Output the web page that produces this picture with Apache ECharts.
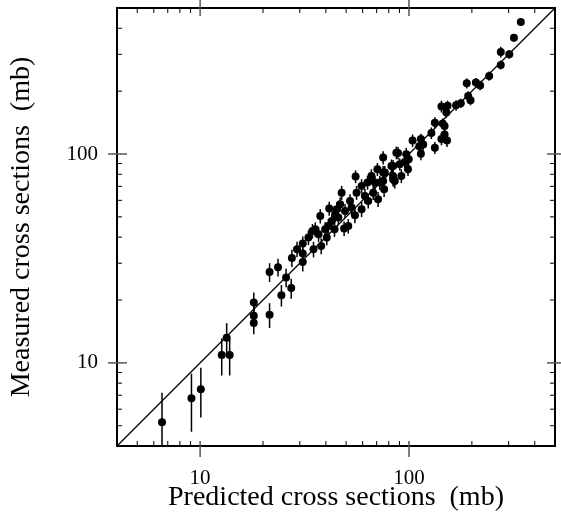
<!DOCTYPE html>
<html><head><meta charset="utf-8">
<script src="https://cdn.jsdelivr.net/npm/echarts@6/dist/echarts.min.js"></script>
<style>html,body{margin:0;padding:0;background:#fff}#c{width:561px;height:527px}</style>
</head><body><div id="c"></div>
<script>
// Predicted (x) and measured (y) cross sections in mb, with measured errors (mb)
const predicted = [6.57,9.09,10.08,12.69,13.4,13.85,
 18.07,18.07,18.07,21.5,21.5,23.6,24.5,25.8,27.3,27.5,29.1,31.0,31.0,31.0,
 33.0,34.5,34.9,37.6,38.0,36.9,39.7,40.4,41.5,42.7,44.3,44.0,46.8,45.9,48.9,49.4,
 52.2,53.1,55.1,55.5,56.1,59.3,59.3,63.3,63.8,66.1,67.4,71.1,70.6,72.5,76.0,75.2,82.4,83.9,87.0,
 47.6,51.2,41.1,35.6,45.1,61.5,68.7,76.6,
 318,275,302,275,242,189,209,219,192,197,168,177,143,153,151,133,145,148,128,148,143,152,
 104,114,112,117,133,88.6,97,99.7,114,83.9,90.3,95.4,98.9,75.2,83.9,91.9,75.2,85.5,343];
const measured = [5.19,6.78,7.48,10.9,13.2,10.9,
 19.45,16.8,15.5,17.0,27.2,28.7,21.1,25.6,22.8,31.8,35.0,37.3,33.4,30.4,
 39.8,42.8,35.0,50.5,36.3,41.3,43.6,39.8,54.8,47.8,51.5,43.6,57.4,49.6,44.0,53.4,
 59.6,55.4,50.9,78.0,65.3,70.3,54.4,73.0,59.6,78.5,65.3,60.7,84.5,73.0,67.8,96.1,87.6,75.7,101.5,
 65.3,45.2,45.2,43.6,54.4,63.0,73.0,81.5,
 360,308,300,267,236,218,220,213,189.5,181,171,175,169,170,158,141,140,136,126,124,118,116,
 116,118,109,111,107,101,99.7,94.3,100.4,87.7,89.3,91.6,84.5,81.5,78.5,78.5,74.3,74.3,428];
const errors = [2.0,2.1,2.0,2.2,2.3,2.2,
 2.3,2.0,1.8,2.3,2.8,2.8,2.5,2.6,2.5,3.0,3.0,3.0,2.8,3.0,
 3.2,3.4,3.0,4.0,3.2,3.3,3.5,3.2,4.2,3.8,4.0,3.5,4.5,4.0,3.5,4.2,
 4.5,4.4,4.3,5.5,5.0,5.5,4.5,5.5,4.8,6.0,5.0,5.0,6.0,5.5,5.5,7.0,6.5,6.0,7.0,
 5.0,3.6,3.6,3.5,4.3,5.0,5.5,6.0,
 15,18,14,13,12,12,11,11,10,10,10,9,11,10,9,9,8,8,8,8,8,8,
 8,7,7,7,7,7,7,7,7,6,6,6,6,6,6,6,6,6,15];

const axisMin = 4, axisMax = 500;
const tickLabels = [10, 100];
const majorTicks = [10, 100];
const minorTicks = [5,6,7,8,9,20,30,40,50,60,70,80,90,200,300,400];
const diagonal = [[4, 4], [500, 500]];

const points = predicted.map((x, i) => [x, measured[i]]);
const bars = predicted.map((x, i) => [x, measured[i], errors[i]]);
const ticks = majorTicks.map(v => [v, v, 1]).concat(minorTicks.map(v => [v, v, 0]));

const chart = echarts.init(document.getElementById('c'), null, {renderer: 'canvas'});
const serif = '"Liberation Serif", "DejaVu Serif", serif';

function labelFmt(v) {
  for (const t of tickLabels) if (Math.abs(v - t) < 1e-6 * t) return String(t);
  return '';
}

function tickItem(params, api) {
  const v = api.value(0), major = api.value(2) === 1;
  const b = api.coord([v, axisMin]), t = api.coord([v, axisMax]);
  const l = api.coord([axisMin, v]), r = api.coord([axisMax, v]);
  const style = {stroke: major ? '#555' : '#000', lineWidth: major ? 1.5 : 1};
  const mk = (x1, y1, x2, y2) => ({type: 'line', shape: {x1, y1, x2, y2}, style});
  const children = major ? [
    mk(b[0], b[1] + 11, b[0], b[1] - 5),
    mk(t[0], t[1] - 8, t[0], t[1] + 8),
    mk(l[0] - 9, l[1], l[0] + 10, l[1]),
    mk(r[0] + 8, r[1], r[0] - 8, r[1])
  ] : [
    mk(b[0], b[1], b[0], b[1] - 5),
    mk(t[0], t[1], t[0], t[1] + 5),
    mk(l[0], l[1], l[0] + 5, l[1]),
    mk(r[0], r[1], r[0] - 5, r[1])
  ];
  return {type: 'group', children};
}

function barItem(params, api) {
  const x = api.value(0), y = api.value(1), e = api.value(2);
  const lo = Math.max(y - e, 1);
  const p1 = api.coord([x, lo]), p2 = api.coord([x, y + e]);
  return {type: 'line', shape: {x1: p1[0], y1: p1[1], x2: p2[0], y2: p2[1]},
    style: {stroke: '#000', lineWidth: 1.5}};
}

const axisCommon = {
  type: 'log', logBase: 10, min: axisMin, max: axisMax,
  axisLine: {show: false}, axisTick: {show: false}, splitLine: {show: false},
  minorTick: {show: false}, minorSplitLine: {show: false},
  nameLocation: 'middle', nameMoveOverlap: false,
  nameTextStyle: {fontFamily: serif, fontSize: 28, color: '#000'},
  axisLabel: {formatter: labelFmt, fontFamily: serif, fontSize: 21, color: '#000',
    showMinLabel: false, showMaxLabel: false}
};

chart.setOption({
  animation: false,
  backgroundColor: '#fff',
  grid: {left: 116, top: 8, width: 439, height: 438, show: true,
    borderColor: '#000', borderWidth: 2, backgroundColor: 'transparent'},
  xAxis: Object.assign({}, axisCommon, {
    name: 'Predicted cross sections  (mb)', nameGap: 38,
    axisLabel: Object.assign({}, axisCommon.axisLabel, {margin: 22})
  }),
  yAxis: Object.assign({}, axisCommon, {
    name: 'Measured cross sections  (mb)', nameGap: 81,
    axisLabel: Object.assign({}, axisCommon.axisLabel, {margin: 19})
  }),
  series: [
    {type: 'line', data: diagonal, symbol: 'none', silent: true, z: 1,
      lineStyle: {color: '#000', width: 1.2}},
    {type: 'custom', data: bars, renderItem: barItem, clip: true, z: 2, silent: true},
    {type: 'scatter', data: points, symbol: 'circle', symbolSize: 8, z: 3,
      itemStyle: {color: '#000', opacity: 1}},
    {type: 'custom', data: ticks, renderItem: tickItem, clip: false, z: 4, silent: true}
  ]
});
</script></body></html>
